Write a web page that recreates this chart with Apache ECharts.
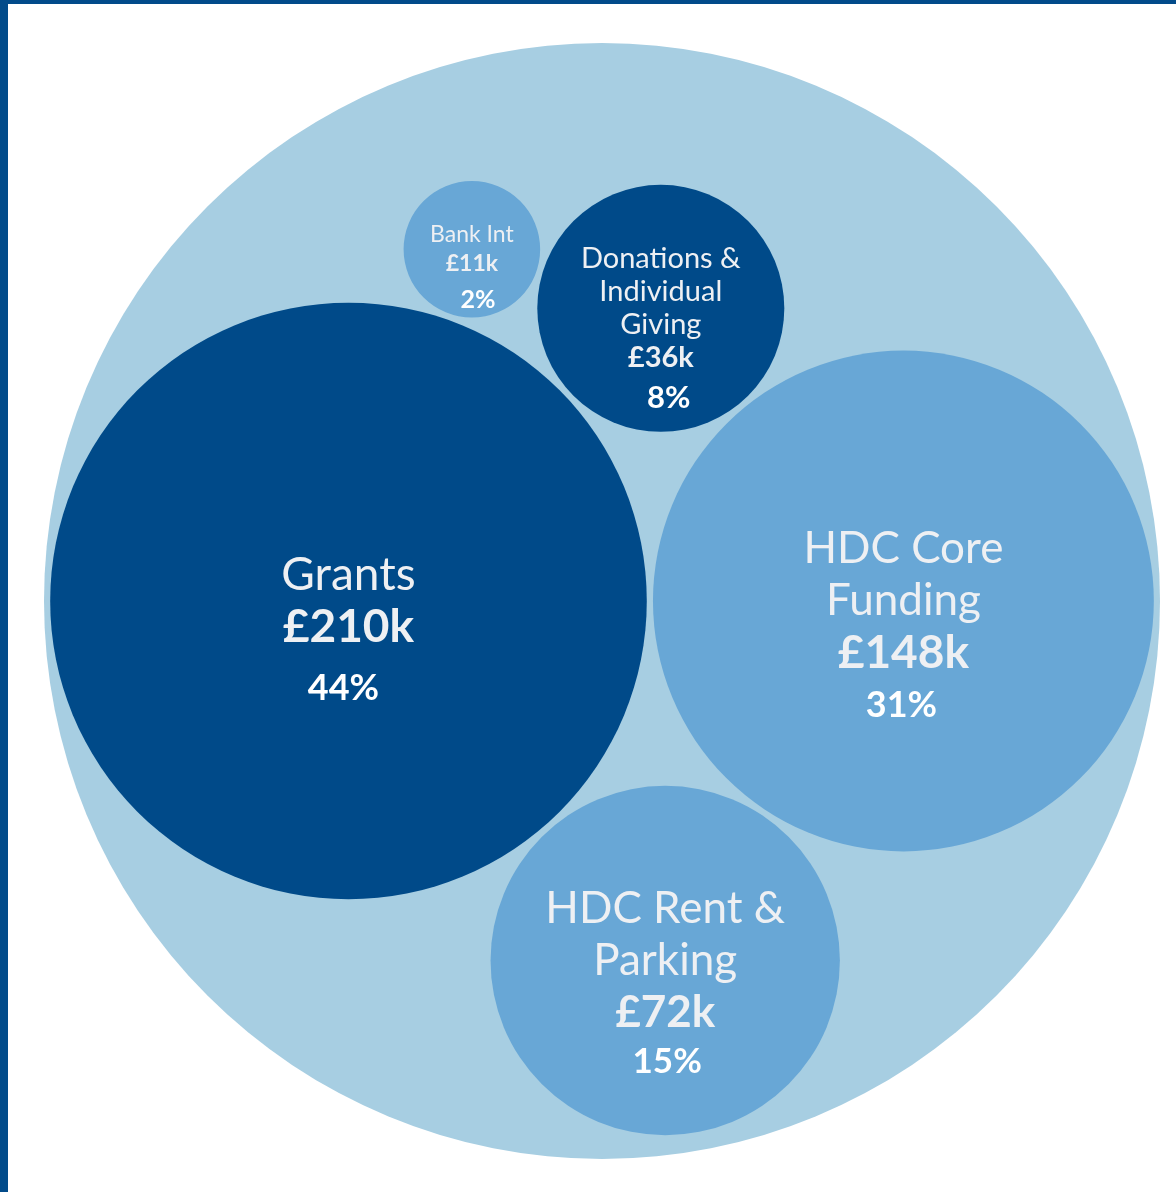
<!DOCTYPE html>
<html>
<head>
<meta charset="utf-8">
<script src="https://cdn.jsdelivr.net/npm/echarts@6/dist/echarts.min.js"></script>
<style>
  html, body { margin: 0; padding: 0; background: #ffffff; }
  #chart { width: 1176px; height: 1192px; }
</style>
</head>
<body>
<div id="chart"></div>
<script>
// Income sources (£ thousands) and their share of total income
const categories = ['Grants', 'HDC Core Funding', 'HDC Rent & Parking', 'Donations & Individual Giving', 'Bank Int'];
const amounts = [210, 148, 72, 36, 11];
const shares = [44, 31, 15, 8, 2];
const nameLines = [
  ['Grants'],
  ['HDC Core', 'Funding'],
  ['HDC Rent &', 'Parking'],
  ['Donations &', 'Individual', 'Giving'],
  ['Bank Int']
];

const FRAME = '#024b8a';
const DARK = '#004a89';
const MID = '#68a7d6';
const LIGHT = '#a7cee2';
const NAME_COLOR = '#eef0f3';
const FONT = 'Lato, "Open Sans", sans-serif';

// per-bubble typography
const bubbleStyles = [
  { fill: DARK, nameSize: 46, amountSize: 46, lineHeight: 52, pctSize: 36, pctY: 87, pctDx: -5 },
  { fill: MID,  nameSize: 44, amountSize: 46, lineHeight: 52, pctSize: 36, pctY: 104, pctDx: -2 },
  { fill: MID,  nameSize: 44, amountSize: 44, lineHeight: 52, pctSize: 35, pctY: 101, pctDx: 2 },
  { fill: DARK, nameSize: 29, amountSize: 29, lineHeight: 33, pctSize: 31, pctY: 90, pctDx: 8 },
  { fill: MID,  nameSize: 23, amountSize: 23, lineHeight: 29, pctSize: 25, pctY: 51, pctDx: 6 }
];

// ---- packing: bubble area proportional to value ----
const GAP = 0.3;
const radius = v => Math.sqrt(v);

// circle of radius r touching a and b (with GAP), on the left (+1) or right (-1) of a->b
function placeTangent(a, b, r, side) {
  const da = a.r + r + GAP, db = b.r + r + GAP;
  const dx = b.x - a.x, dy = b.y - a.y;
  const d = Math.hypot(dx, dy);
  const along = (da * da - db * db + d * d) / (2 * d);
  const h = Math.sqrt(Math.max(0, da * da - along * along));
  const ux = dx / d, uy = dy / d;
  return { x: a.x + ux * along - uy * h * side, y: a.y + uy * along + ux * h * side, r: r };
}

const circles = [];
circles[0] = { x: 0, y: 0, r: radius(amounts[0]) };
circles[1] = { x: circles[0].r + radius(amounts[1]) + GAP, y: 0, r: radius(amounts[1]) };
circles[3] = placeTangent(circles[0], circles[1], radius(amounts[3]), 1);
circles[2] = placeTangent(circles[0], circles[1], radius(amounts[2]), -1);
circles[4] = placeTangent(circles[0], circles[3], radius(amounts[4]), 1);

// enclosing circle centred between the two largest bubbles
const encX = ((circles[0].x - circles[0].r) + (circles[1].x + circles[1].r)) / 2;
const encY = 0;
const encR = Math.max(...circles.map(c => Math.hypot(c.x - encX, c.y - encY) + c.r)) + GAP;

const bubbleData = circles.map((c, i) => ({ name: categories[i], value: [c.x, c.y, c.r, i] }));

function renderBubble(params, api) {
  const c = api.coord([api.value(0), api.value(1)]);
  const r = api.size([api.value(2), 0])[0];
  const i = api.value(3);
  const s = bubbleStyles[i];
  const text = nameLines[i].map(l => '{n|' + l + '}').join('\n') + '\n{a|£' + amounts[i] + 'k}';
  return {
    type: 'group',
    children: [
      { type: 'circle', shape: { cx: c[0], cy: c[1], r: r }, style: { fill: s.fill } },
      {
        type: 'text', x: c[0], y: c[1],
        style: {
          text: text, align: 'center', verticalAlign: 'middle',
          rich: {
            n: { fontFamily: FONT, fontSize: s.nameSize, fill: NAME_COLOR, lineHeight: s.lineHeight, align: 'center' },
            a: { fontFamily: FONT, fontSize: s.amountSize, fontWeight: 'bold', fill: NAME_COLOR, lineHeight: s.lineHeight, align: 'center' }
          }
        }
      },
      {
        type: 'text', x: c[0] + s.pctDx, y: c[1] + s.pctY,
        style: {
          text: shares[i] + '%', align: 'center', verticalAlign: 'middle',
          fontFamily: FONT, fontSize: s.pctSize, fontWeight: 'bold', fill: '#ffffff'
        }
      }
    ]
  };
}

const chart = echarts.init(document.getElementById('chart'), null, { renderer: 'canvas' });
chart.setOption({
  animation: false,
  backgroundColor: '#ffffff',
  graphic: [
    { type: 'rect', shape: { x: 0, y: 0, width: 8, height: 1192 }, style: { fill: FRAME }, z: 10 },
    { type: 'rect', shape: { x: 0, y: 0, width: 1176, height: 4 }, style: { fill: FRAME }, z: 10 }
  ],
  grid: { left: 44, top: 43, width: 1116, height: 1116 },
  xAxis: { type: 'value', min: encX - encR, max: encX + encR, show: false },
  yAxis: { type: 'value', min: encY - encR, max: encY + encR, show: false },
  series: [
    {
      name: 'Total income',
      type: 'custom',
      silent: true,
      data: [[encX, encY, encR]],
      renderItem: function (params, api) {
        const c = api.coord([api.value(0), api.value(1)]);
        const r = api.size([api.value(2), 0])[0];
        return { type: 'circle', shape: { cx: c[0], cy: c[1], r: r }, style: { fill: LIGHT } };
      }
    },
    {
      name: 'Income sources',
      type: 'custom',
      data: bubbleData,
      renderItem: renderBubble
    }
  ]
});
</script>
</body>
</html>
